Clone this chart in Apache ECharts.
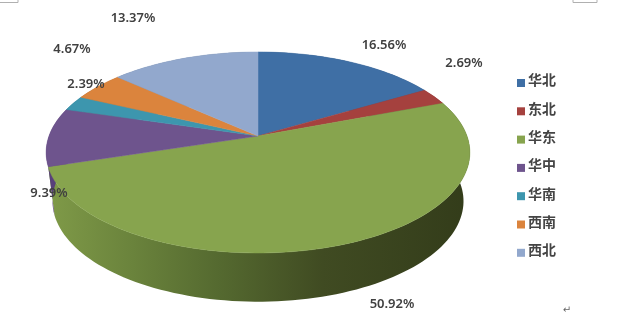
<!DOCTYPE html>
<html>
<head>
<meta charset="utf-8">
<script src="https://cdn.jsdelivr.net/npm/echarts@6/dist/echarts.min.js"></script>
<style>
  html, body { margin: 0; padding: 0; background: #fff; }
  #main { width: 631px; height: 321px; }
</style>
</head>
<body>
<div id="main"></div>
<script>
const regions = ['华北', '东北', '华东', '华中', '华南', '西南', '西北'];
const shares = [16.56, 2.69, 50.92, 9.39, 2.39, 4.67, 13.37];

const topColors = ['#3f6fa5', '#a5413e', '#87a44e', '#6e548d', '#3d96ae', '#db843d', '#92a8cd'];
const wallColors = ['#2c4e74', '#73302e', '#556a30', '#58407a', '#2b6a7b', '#99602b', '#667690'];
// 标签位置 (px)
const labelSpots = [[384, 45], [464, 63], [392, 304], [49, 193], [86, 84], [72, 49], [133, 18]];

const total = shares.reduce((a, b) => a + b, 0);
const tilt = 0.164;   // 透视
const wallDrop = 0.498;
const wallShrink = 0.97;

// 圆盘上的百分比位置 -> 数据坐标
function rim(pct, shrink, drop) {
  const t = pct / total * Math.PI * 2;
  const d = 1 + tilt * Math.cos(t);
  return [shrink * Math.sin(t) / d, Math.cos(t) / d - drop];
}

function arc(from, to, shrink, drop, api) {
  const pts = [];
  const n = Math.max(2, Math.ceil((to - from) * 2));
  for (let i = 0; i <= n; i++) {
    pts.push(api.coord(rim(from + (to - from) * i / n, shrink, drop)));
  }
  return pts;
}

function renderWall(params, api) {
  const i = params.seriesIndex;
  const pts = arc(api.value(0), api.value(1), 1, 0, api)
    .concat(arc(api.value(0), api.value(1), wallShrink, wallDrop, api).reverse());
  let fill = wallColors[i];
  if (i === 2) {
    fill = {
      type: 'linear', x: 0, y: 0, x2: 1, y2: 0,
      colorStops: [
        { offset: 0, color: '#7f9a48' },
        { offset: 0.2, color: '#6a833c' },
        { offset: 0.4, color: '#556a30' },
        { offset: 0.65, color: '#404b22' },
        { offset: 1, color: '#333c1a' }
      ]
    };
  }
  return { type: 'polygon', shape: { points: pts }, style: { fill: fill } };
}

function renderTop(params, api) {
  const i = params.seriesIndex - regions.length;
  const pts = [api.coord([0, 0])].concat(arc(api.value(0), api.value(1), 1, 0, api));
  return {
    type: 'polygon',
    shape: { points: pts },
    style: { fill: topColors[i], stroke: topColors[i], lineWidth: 0.5 }
  };
}

function renderLabel(params, api) {
  const i = params.dataIndex;
  return {
    type: 'text',
    style: {
      x: labelSpots[i][0],
      y: labelSpots[i][1],
      text: api.value(0).toFixed(2) + '%',
      fill: '#404040',
      font: '600 13px "Noto Sans", sans-serif',
      align: 'center',
      verticalAlign: 'middle'
    }
  };
}

let acc = 0;
const spans = shares.map(v => {
  const s = [acc, acc + v];
  acc += v;
  return s;
});

const series = [];
regions.forEach((name, i) => {
  series.push({
    name: name + '侧面',
    type: 'custom',
    coordinateSystem: 'cartesian2d',
    renderItem: renderWall,
    data: [spans[i]],
    z: 1,
    silent: true
  });
});
regions.forEach((name, i) => {
  series.push({
    name: name,
    type: 'custom',
    coordinateSystem: 'cartesian2d',
    renderItem: renderTop,
    data: [spans[i]],
    itemStyle: { color: topColors[i] },
    z: 2
  });
});
series.push({
  type: 'custom',
  coordinateSystem: 'cartesian2d',
  renderItem: renderLabel,
  data: shares.map(v => [v]),
  encode: { x: -1, y: -1 },
  z: 3,
  silent: true
});

const option = {
  animation: false,
  backgroundColor: '#fff',
  grid: { left: 49, top: 38.2, width: 418, height: 195.6 },
  xAxis: { type: 'value', min: -1, max: 1, show: false },
  yAxis: { type: 'value', min: -1, max: 1, show: false },
  legend: {
    data: regions,
    orient: 'vertical',
    left: 517,
    top: 73,
    padding: 0,
    icon: 'rect',
    itemWidth: 8,
    itemHeight: 8,
    itemGap: 8.3,
    selectedMode: false,
    formatter: '{a|{name}}',
    textStyle: {
      rich: {
        a: {
          color: '#454545',
          fontFamily: '"Noto Sans CJK SC", sans-serif',
          fontWeight: 'bold',
          fontSize: 14,
          lineHeight: 14,
          padding: [0, 0, 6, -2]
        }
      }
    }
  },
  graphic: [
    { type: 'polyline', silent: true, shape: { points: [[0, 2.5], [18, 2.5], [18, 0]] }, style: { stroke: '#b0b0b0', fill: null } },
    { type: 'polyline', silent: true, shape: { points: [[573, 0], [573, 2.5], [597, 2.5], [597, 0]] }, style: { stroke: '#b0b0b0', fill: null } },
    { type: 'text', silent: true, style: { x: 567, y: 310, text: '↵', fill: '#666', font: '10px "DejaVu Sans"', align: 'center', verticalAlign: 'middle' } }
  ],
  series: series
};

const myChart = echarts.init(document.getElementById('main'));
myChart.setOption(option);
</script>
</body>
</html>
